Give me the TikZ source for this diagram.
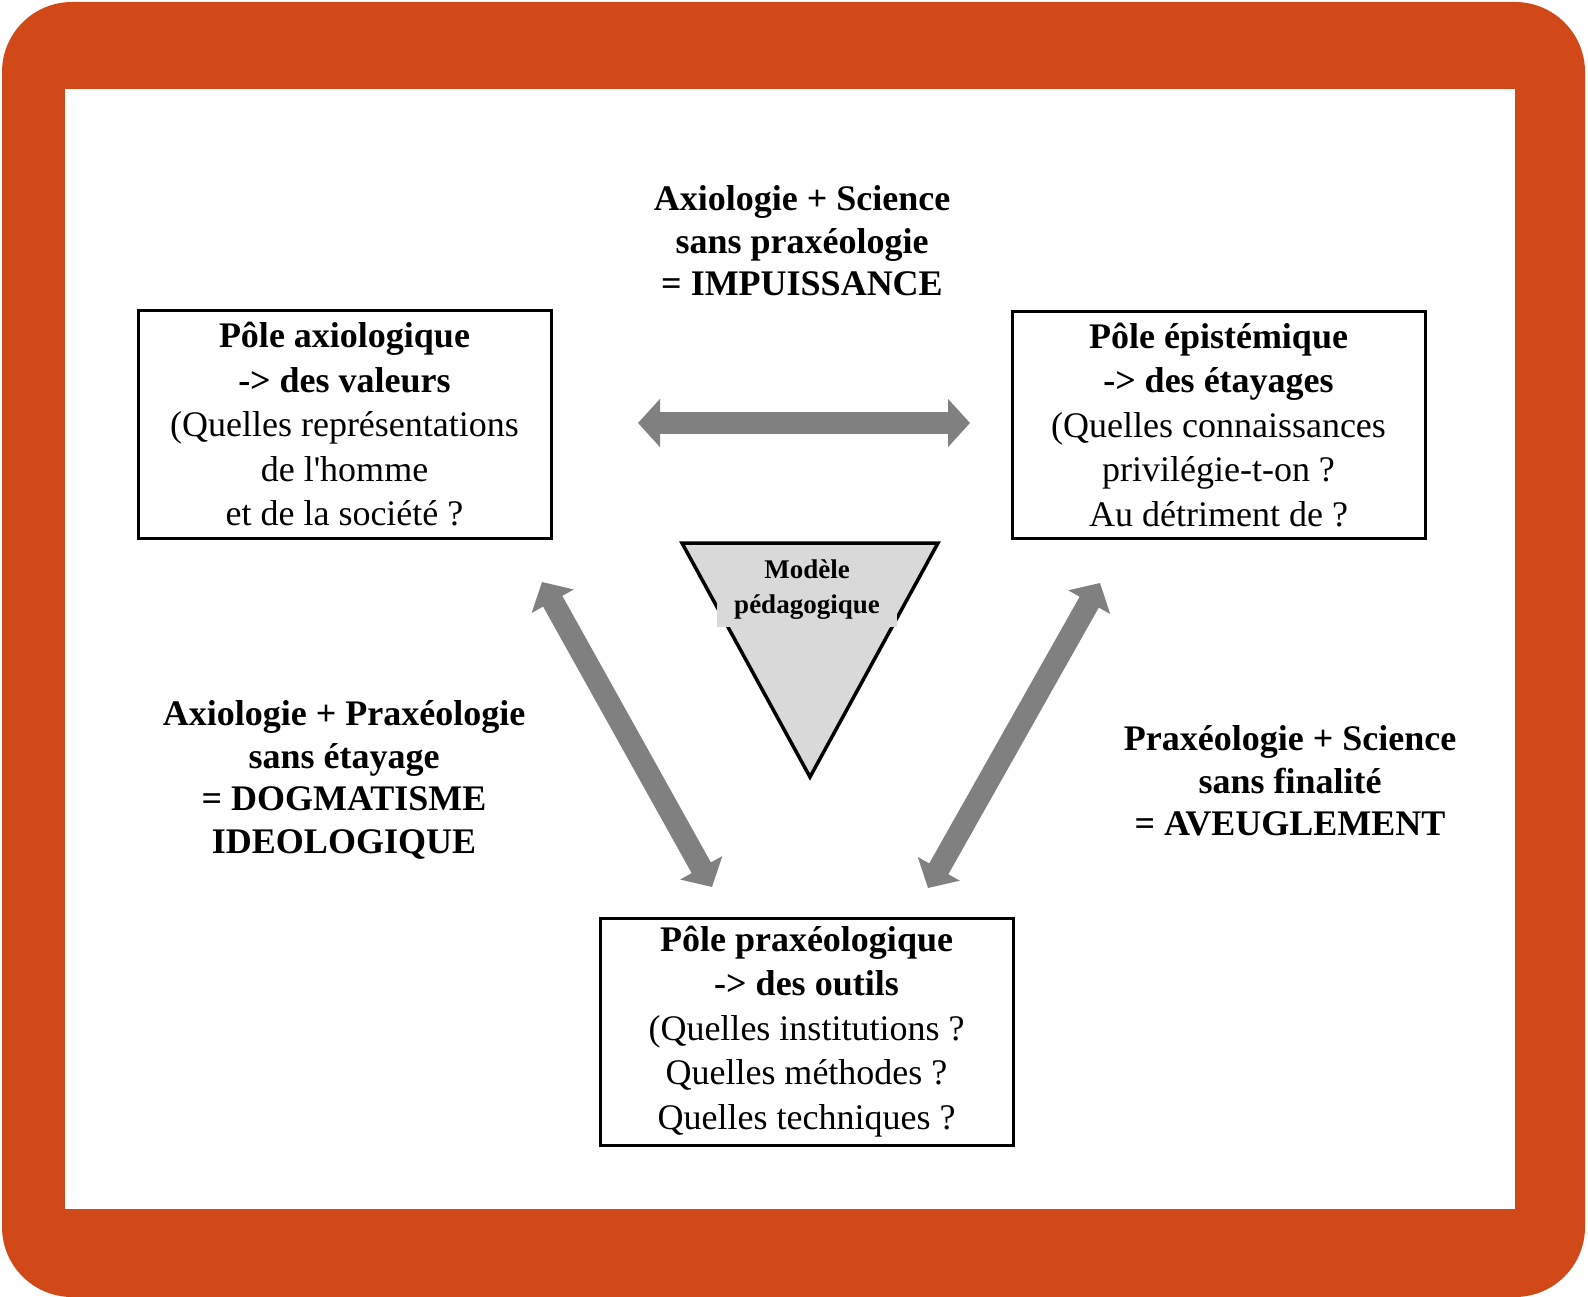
\documentclass[tikz,border=0pt]{standalone}
\usepackage{fontspec}
\setmainfont{Liberation Serif}
\usetikzlibrary{arrows.meta}
\definecolor{cadre}{RGB}{209,73,24}
\definecolor{gris}{RGB}{128,128,128}
\definecolor{grisclair}{RGB}{217,217,217}
\tikzset{
	pole/.style={draw, line width=3pt, minimum width=413pt, minimum height=227pt, inner sep=0pt, align=center, font=\fontsize{36}{44.5}\selectfont},
	bilan/.style={align=center, font=\bfseries\fontsize{36}{42.5}\selectfont},
	fleche/.style={draw=gris, line width=22pt, {Triangle[width=47pt,length=22pt]}-{Triangle[width=47pt,length=22pt]}}
}
\begin{document}
\begin{tikzpicture}[x=1pt, y=-1pt]
		\useasboundingbox (0, 0) rectangle (1588, 1297);
		\fill[cadre, rounded corners=70pt] (2, 2) rectangle (1585, 1297);
		\fill[white] (65, 89) rectangle (1515, 1209);
		% les trois poles
		\node (axio) at (344.5, 424.5) [pole] {\textbf{Pôle axiologique}\\\textbf{-> des valeurs}\\(Quelles représentations\\de l\textquotesingle homme\\et de la société ?};
		\node (episte) at (1218.5, 425) [pole] {\textbf{Pôle épistémique}\\\textbf{-> des étayages}\\(Quelles connaissances\\privilégie-t-on ?\\Au détriment de ?};
		\node (praxeo) at (806.5, 1031.5) [pole] {\textbf{Pôle praxéologique}\\\textbf{-> des outils}\\(Quelles institutions ?\\Quelles méthodes ?\\Quelles techniques ?};
		% le modele au centre
		\draw[line width=3.5pt, fill=grisclair] (682, 543) -- (938, 543) -- (810, 777) -- cycle;
		\node (modele) at (807, 590) [fill=grisclair, minimum width=180pt, minimum height=74pt, inner sep=0pt, align=center, font=\bfseries\fontsize{27}{35}\selectfont] {Modèle\\pédagogique};
		% les fleches
		\coordinate (h1) at (638, 423);
		\coordinate (h2) at (970, 423);
		\coordinate (g1) at (542, 582);
		\coordinate (g2) at (712, 887);
		\coordinate (d1) at (1100, 583);
		\coordinate (d2) at (928, 888);
		\draw[fleche] (h1) -- (h2);
		\draw[fleche] (g1) -- (g2);
		\draw[fleche] (d1) -- (d2);
		% les bilans
		\node (impuis) at (802, 241) [bilan] {Axiologie + Science\\sans praxéologie\\= IMPUISSANCE};
		\node (dogme) at (344, 780) [bilan] {Axiologie + Praxéologie\\sans étayage\\= DOGMATISME\\IDEOLOGIQUE};
		\node (aveugle) at (1290, 781) [bilan] {Praxéologie + Science\\sans finalité\\= AVEUGLEMENT};
\end{tikzpicture}
\end{document}
